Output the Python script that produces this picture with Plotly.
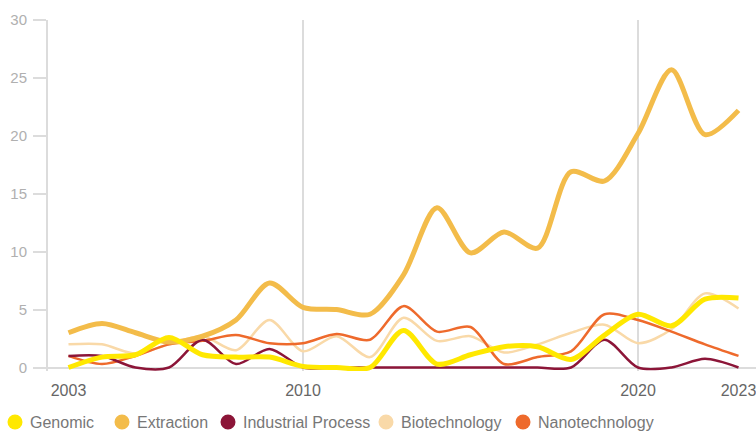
import plotly.graph_objects as go

years = list(range(2003, 2024))

genomic = [0.0, 0.9, 1.1, 2.6, 1.1, 0.9, 0.9, 0.1, 0.0, 0.0, 3.2, 0.3, 1.1, 1.8, 1.8, 0.7, 2.8, 4.6, 3.6, 5.9, 6.0]
extraction = [3.0, 3.8, 3.0, 2.2, 2.7, 4.1, 7.3, 5.2, 5.0, 4.6, 8.0, 13.8, 9.9, 11.7, 10.3, 16.9, 16.1, 20.2, 25.7, 20.1, 22.2]
industrial = [1.0, 1.0, 0.0, 0.0, 2.4, 0.3, 1.6, 0.0, 0.0, 0.0, 0.0, 0.0, 0.0, 0.0, 0.0, 0.0, 2.4, 0.0, 0.0, 0.75, 0.0]
biotech = [2.0, 2.0, 1.2, 2.0, 2.7, 1.5, 4.1, 1.4, 2.7, 0.9, 4.3, 2.3, 2.7, 1.3, 2.0, 3.0, 3.7, 2.1, 3.3, 6.4, 5.1]
nanotech = [1.0, 0.3, 1.0, 2.0, 2.3, 2.8, 2.1, 2.1, 2.9, 2.4, 5.3, 3.1, 3.5, 0.3, 0.9, 1.4, 4.6, 4.1, 3.1, 2.0, 1.0]

tick_years = [2003, 2010, 2020, 2023]
grid_years = [2010, 2020]
y_ticks = [0, 5, 10, 15, 20, 25, 30]

series_names = ["Genomic", "Extraction", "Industrial Process", "Biotechnology", "Nanotechnology"]
series_values = [genomic, extraction, industrial, biotech, nanotech]
series_colors = ["#FFE800", "#F3BC4A", "#8C1538", "#F9D9A8", "#EE6A2C"]
series_widths = [5, 5, 2.5, 2.5, 2.5]
draw_order = [3, 4, 2, 1, 0]

W, H = 756, 431
L, R, T, B = 48, 0, 20, 60
PW, PH = W - L - R, H - T - B

fig = go.Figure()
for i in draw_order:
    fig.add_trace(go.Scatter(
        x=years, y=series_values[i], mode="lines", name=series_names[i],
        showlegend=False,
        line=dict(color=series_colors[i], width=series_widths[i],
                  shape="spline", smoothing=0.85),
        hoverinfo="skip",
    ))

# custom legend (circle + label) laid out like the reference
legend_px = [15, 122, 228, 386, 523]
legend_py = 422
r = 7.5
shapes = []
annotations = []
for name, color, cx in zip(series_names, series_colors, legend_px):
    shapes.append(dict(
        type="circle", xref="paper", yref="paper",
        x0=(cx - r - L) / PW, x1=(cx + r - L) / PW,
        y0=(H - B - (legend_py + r)) / PH, y1=(H - B - (legend_py - r)) / PH,
        fillcolor=color, line=dict(width=0), layer="above",
    ))
    annotations.append(dict(
        text=name, xref="paper", yref="paper", showarrow=False,
        x=(cx + 12.5 - L) / PW, y=(H - B - legend_py) / PH,
        xanchor="left", yanchor="middle",
        font=dict(size=16, color="#777777"),
    ))

fig.update_layout(
    width=W, height=H,
    margin=dict(l=L, r=R, t=T, b=B, autoexpand=False),
    plot_bgcolor="white", paper_bgcolor="white",
    font=dict(family="Liberation Sans, Arial, sans-serif", color="#666"),
    showlegend=False, hovermode=False,
    shapes=shapes, annotations=annotations,
    xaxis=dict(
        range=[2002.388, 2023.522], tickmode="array", tickvals=tick_years,
        ticktext=[str(v) for v in tick_years], showgrid=False, showline=False,
        zeroline=False, ticks="", tickfont=dict(size=16, color="#666"),
        ticklabelstandoff=8, ticklabeloverflow="allow", automargin=False,
        minor=dict(tickmode="array", tickvals=grid_years, showgrid=True,
                   gridcolor="#dcdcdc", gridwidth=2, ticks=""),
    ),
    yaxis=dict(
        range=[-0.3, 30], tickmode="array", tickvals=y_ticks,
        showgrid=False, showline=True, linecolor="#dcdcdc", linewidth=2,
        zeroline=True, zerolinecolor="#dcdcdc", zerolinewidth=2,
        ticks="outside", ticklen=13, tickwidth=2, tickcolor="#dcdcdc",
        tickfont=dict(size=15, color="#b0b0b0"), ticklabelstandoff=3,
        automargin=False,
    ),
)

fig.write_html(
    "out.html",
    config={"displayModeBar": False, "staticPlot": True},
    post_script="document.body.style.margin='0';document.body.style.padding='0';",
)
